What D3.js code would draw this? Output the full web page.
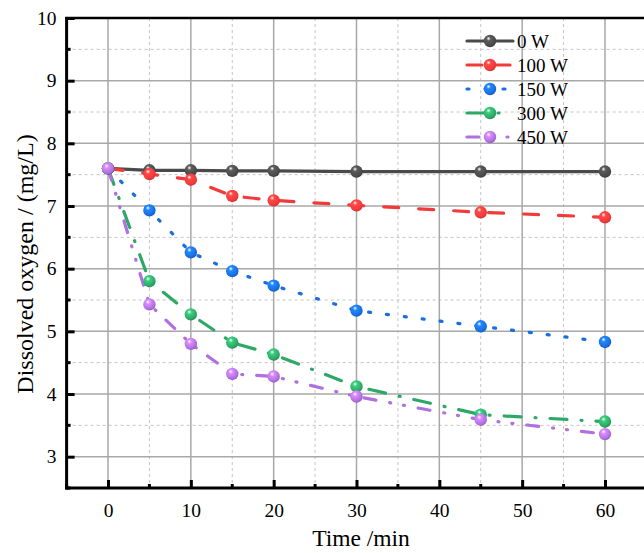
<!DOCTYPE html>
<html><head><meta charset="utf-8">
<script src="https://cdn.jsdelivr.net/npm/d3@7/dist/d3.min.js"></script>
<style>body{margin:0;background:#fff}svg{display:block}text{font-family:"Liberation Serif","Times New Roman",serif}</style>
</head><body><svg id="c" width="644" height="553"></svg>
<script>
const times = [0, 5, 10, 15, 20, 30, 45, 60];
const seriesNames = ["0 W", "100 W", "150 W", "300 W", "450 W"];
const w0   = [7.60, 7.57, 7.57, 7.56, 7.56, 7.55, 7.55, 7.55];
const w100 = [7.60, 7.51, 7.42, 7.16, 7.09, 7.01, 6.90, 6.82];
const w150 = [7.60, 6.93, 6.26, 5.96, 5.73, 5.33, 5.08, 4.83];
const w300 = [7.60, 5.80, 5.27, 4.82, 4.63, 4.12, 3.67, 3.56];
const w450 = [7.60, 5.43, 4.80, 4.32, 4.28, 3.96, 3.59, 3.36];
const xTicks = [0, 10, 20, 30, 40, 50, 60];
const yTicks = [3, 4, 5, 6, 7, 8, 9, 10];

const colors = ["#4a4a4a", "#f23a3a", "#1a6ee0", "#2ea866", "#b070e0"];
const dashes = [null, "15,20", "2,16", "17,14,1,14", "12,14,1,13,1,14"];
const values = [w0, w100, w150, w300, w450];

const svg = d3.select("#c");
const x = d3.scaleLinear().domain([-5, 65]).range([66.6, 646.4]);
const y = d3.scaleLinear().domain([2.5, 10]).range([488, 18]);
const L = 66.6, R = 646.4, T = 18, B = 488;

const defs = svg.append("defs");
colors.forEach((c, i) => {
  const g = defs.append("radialGradient").attr("id", "g" + i)
    .attr("cx", "0.4").attr("cy", "0.35").attr("r", "0.7").attr("fx", "0.38").attr("fy", "0.3");
  g.append("stop").attr("offset", "0").attr("stop-color", "#ffffff");
  g.append("stop").attr("offset", "0.25").attr("stop-color", d3.color(c).brighter(0.6));
  g.append("stop").attr("offset", "0.75").attr("stop-color", c);
  g.append("stop").attr("offset", "1").attr("stop-color", d3.color(c).darker(0.6));
});

const gx = svg.append("g");
d3.range(-5, 66, 5).filter(v => v % 10 !== 0).forEach(v => {
  gx.append("line").attr("x1", x(v)).attr("x2", x(v)).attr("y1", T).attr("y2", B)
    .attr("stroke", "#c4c4c4").attr("stroke-width", 1).attr("stroke-dasharray", "3,3");
});
d3.range(2.5, 10, 0.5).filter(v => Math.abs(v - Math.round(v)) > 0.01).forEach(v => {
  gx.append("line").attr("x1", L).attr("x2", R).attr("y1", y(v)).attr("y2", y(v))
    .attr("stroke", "#c4c4c4").attr("stroke-width", 1).attr("stroke-dasharray", "3,3");
});
xTicks.forEach(v => gx.append("line").attr("x1", x(v)).attr("x2", x(v)).attr("y1", T).attr("y2", B)
  .attr("stroke", "#a8a8a8").attr("stroke-width", 1.5));
yTicks.forEach(v => gx.append("line").attr("x1", L).attr("x2", R).attr("y1", y(v)).attr("y2", y(v))
  .attr("stroke", "#a8a8a8").attr("stroke-width", 1.5));

const yAxis = d3.axisLeft(y).tickValues(yTicks).tickSize(-8).tickPadding(10).tickFormat(d3.format("d"));
const ya = svg.append("g").attr("transform", `translate(${L},0)`).call(yAxis);
ya.select(".domain").remove();
ya.selectAll(".tick line").attr("stroke", "#000").attr("stroke-width", 3);
ya.selectAll("text").attr("font-size", 19.5).attr("fill", "#000");
d3.range(2.5, 10, 0.5).filter(v => Math.abs(v - Math.round(v)) > 0.01).forEach(v =>
  svg.append("line").attr("x1", L).attr("x2", L + 4).attr("y1", y(v)).attr("y2", y(v)).attr("stroke", "#000").attr("stroke-width", 3));

const xAxis = d3.axisBottom(x).tickValues(xTicks).tickSize(-8).tickPadding(15).tickFormat(d3.format("d"));
const xa = svg.append("g").attr("transform", `translate(0,${B})`).call(xAxis);
xa.select(".domain").remove();
xa.selectAll(".tick line").attr("stroke", "#000").attr("stroke-width", 3);
xa.selectAll("text").attr("font-size", 19.5).attr("fill", "#000");
d3.range(-5, 66, 5).filter(v => v % 10 !== 0).forEach(v =>
  svg.append("line").attr("x1", x(v)).attr("x2", x(v)).attr("y1", B).attr("y2", B - 4).attr("stroke", "#000").attr("stroke-width", 3));

svg.append("line").attr("x1", L).attr("x2", L).attr("y1", T - 1).attr("y2", B + 1.5).attr("stroke", "#000").attr("stroke-width", 3);
svg.append("line").attr("x1", L - 1.5).attr("x2", R).attr("y1", B).attr("y2", B).attr("stroke", "#000").attr("stroke-width", 3);
svg.append("line").attr("x1", L - 1.5).attr("x2", R).attr("y1", T).attr("y2", T).attr("stroke", "#000").attr("stroke-width", 2.5);

const line = d3.line().x(d => x(d[0])).y(d => y(d[1]));
values.forEach((vals, i) => {
  svg.append("path").datum(times.map((t, k) => [t, vals[k]]))
    .attr("d", line).attr("fill", "none").attr("stroke", colors[i]).attr("stroke-width", 3.2)
    .attr("stroke-linecap", "round")
    .attr("stroke-dasharray", dashes[i]);
});
values.forEach((vals, i) => {
  svg.append("g").selectAll("circle").data(times.map((t, k) => [t, vals[k]])).join("circle")
    .attr("cx", d => x(d[0])).attr("cy", d => y(d[1])).attr("r", 6.2)
    .attr("fill", `url(#g${i})`);
});

const lg = svg.append("g");
const legY = [41, 65, 89, 113, 137];
const legDash = [null, "15,13", "2,16", "17,14,1,14", "12,14,1,13,1,14"];
seriesNames.forEach((n, i) => {
  const yy = legY[i];
  lg.append("line").attr("x1", 467).attr("x2", 513).attr("y1", yy).attr("y2", yy)
    .attr("stroke", colors[i]).attr("stroke-width", 3.2).attr("stroke-linecap", "round")
    .attr("stroke-dasharray", legDash[i]);
  lg.append("circle").attr("cx", 490).attr("cy", yy).attr("r", 6.2).attr("fill", `url(#g${i})`);
  lg.append("text").attr("x", 517).attr("y", yy + 6.5).attr("font-size", 19).text(n);
});

svg.append("text").attr("x", 361).attr("y", 546).attr("text-anchor", "middle").attr("font-size", 23.5).text("Time /min");
svg.append("text").attr("transform", "translate(33,264) rotate(-90)").attr("text-anchor", "middle")
  .attr("font-size", 24).text("Dissolved oxygen / (mg/L)");
</script></body></html>
